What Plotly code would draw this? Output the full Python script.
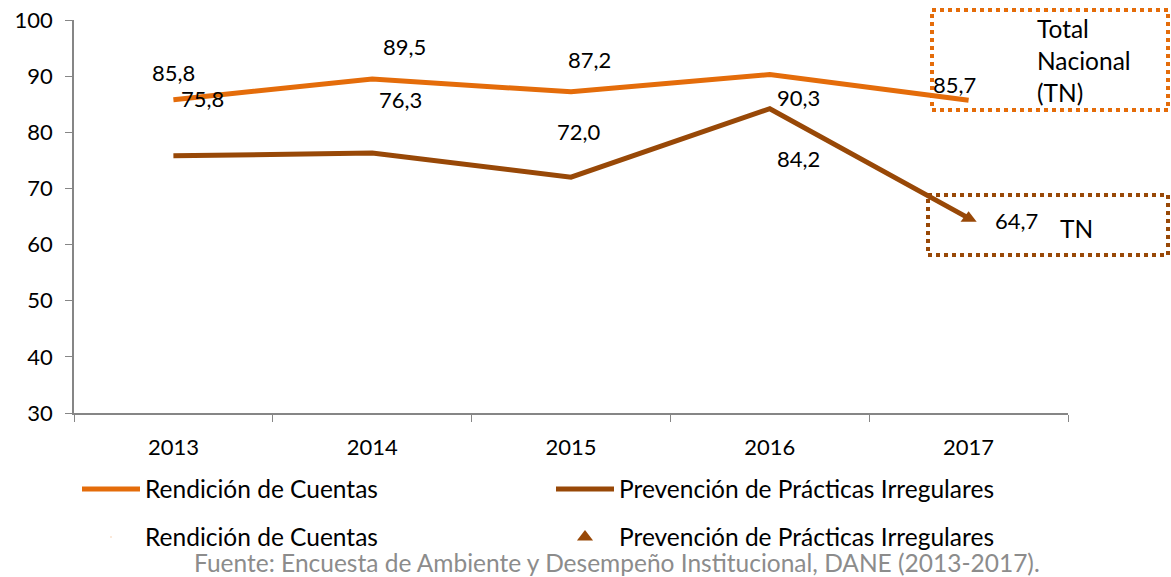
import plotly.graph_objects as go

years = ["2013", "2014", "2015", "2016", "2017"]
rendicion = [85.8, 89.5, 87.2, 90.3, 85.7]
prevencion = [75.8, 76.3, 72.0, 84.2, 64.7]
rendicion_labels = ["85,8", "89,5", "87,2", "90,3", "85,7"]
prevencion_labels = ["75,8", "76,3", "72,0", "84,2", "64,7"]
y_ticks = [30, 40, 50, 60, 70, 80, 90, 100]

name_r = "Rendición de Cuentas"
name_p = "Prevención de Prácticas Irregulares"
footer = "Fuente: Encuesta de Ambiente y Desempeño Institucional, DANE (2013-2017)."

ORANGE = "#E46C0A"
BROWN = "#984807"
FONT = "Lato"
FS = 22      # numbers
FT = 24.5    # words

W, H = 1171, 577
L, R, T, B = 74, 103, 20, 164
PW, PH = W - L - R, H - T - B

def px(x):
    return (x - L) / PW

def py(y):
    return (H - B - y) / PH

fig = go.Figure()
fig.add_trace(go.Scatter(x=years, y=rendicion, mode="lines", name=name_r,
                         line=dict(color=ORANGE, width=5), legend="legend"))
fig.add_trace(go.Scatter(x=years, y=prevencion, mode="lines", name=name_p,
                         line=dict(color=BROWN, width=5), legend="legend2"))
fig.add_trace(go.Scatter(x=[years[-1]], y=[rendicion[-1]], mode="markers", name=name_r,
                         marker=dict(color=ORANGE, size=1, opacity=0), legend="legend3"))
fig.add_trace(go.Scatter(x=[years[-1]], y=[prevencion[-1]], mode="markers", name=name_p,
                         marker=dict(color=BROWN, size=14, symbol="triangle-up"), legend="legend4"))

r_shift = [(0, 27), (32, 32), (18, 32), (29, -23), (-14, 16)]
p_shift = [(29, 57), (28, 54), (8, 46), (29, -50), (48, -2)]
for i, yr in enumerate(years):
    fig.add_annotation(x=i, y=rendicion[i], text=rendicion_labels[i], showarrow=False,
                       xshift=r_shift[i][0], yshift=r_shift[i][1],
                       font=dict(family=FONT, size=FS, color="black"))
    fig.add_annotation(x=i, y=prevencion[i], text=prevencion_labels[i], showarrow=False,
                       xshift=p_shift[i][0], yshift=p_shift[i][1],
                       font=dict(family=FONT, size=FS, color="black"))

# dotted boxes
fig.add_shape(type="rect", xref="paper", yref="paper",
              x0=px(932), x1=px(1168), y0=py(110), y1=py(10),
              line=dict(color=ORANGE, width=4, dash="dot"))
fig.add_shape(type="rect", xref="paper", yref="paper",
              x0=px(928), x1=px(1168), y0=py(255), y1=py(195),
              line=dict(color=BROWN, width=4, dash="dot"))

fig.add_annotation(xref="paper", yref="paper", x=px(1035), y=py(61), xanchor="left", yanchor="middle",
                   text="Total<br>Nacional<br>(TN)", align="left", showarrow=False,
                   font=dict(family=FONT, size=FT, color="black"))
fig.add_annotation(xref="paper", yref="paper", x=px(1076), y=py(228), xanchor="center", yanchor="middle",
                   text="TN", showarrow=False, font=dict(family=FONT, size=FT, color="black"))
fig.add_annotation(xref="paper", yref="paper", x=px(617), y=py(562), xanchor="center", yanchor="middle",
                   text=footer, showarrow=False, font=dict(family=FONT, size=FT, color="#8C8C8C"))

leg_common = dict(orientation="h", bgcolor="rgba(0,0,0,0)", font=dict(family=FONT, size=FT, color="black"),
                  xanchor="left", yanchor="middle", itemwidth=58)
fig.update_layout(
    width=W, height=H,
    margin=dict(l=L, r=R, t=T, b=B, autoexpand=False),
    paper_bgcolor="white", plot_bgcolor="white",
    font=dict(family=FONT, size=FS, color="black"),
    showlegend=True,
    legend=dict(x=px(77), y=py(489), **leg_common),
    legend2=dict(x=px(551), y=py(489), **leg_common),
    legend3=dict(x=px(77), y=py(537), **leg_common),
    legend4=dict(x=px(551), y=py(537), **leg_common),
    xaxis=dict(type="category", range=[-0.5, 4.5], showline=True, linecolor="#868686", linewidth=1.5,
               ticks="outside", tickson="boundaries", ticklen=7, tickcolor="#868686",
               ticklabelstandoff=14,
               showgrid=False, zeroline=False, tickfont=dict(family=FONT, size=FS, color="black")),
    yaxis=dict(range=[30, 100], tickvals=y_ticks, showline=True, linecolor="#868686", linewidth=1.5,
               ticks="outside", ticklen=7, tickcolor="#868686", showgrid=False, zeroline=False,
               ticklabelstandoff=8,
               tickfont=dict(family=FONT, size=FS, color="black")),
)

fig.write_html("out.html", config={"displayModeBar": False},
               post_script="document.body.style.margin='0';document.body.style.overflow='hidden';")
